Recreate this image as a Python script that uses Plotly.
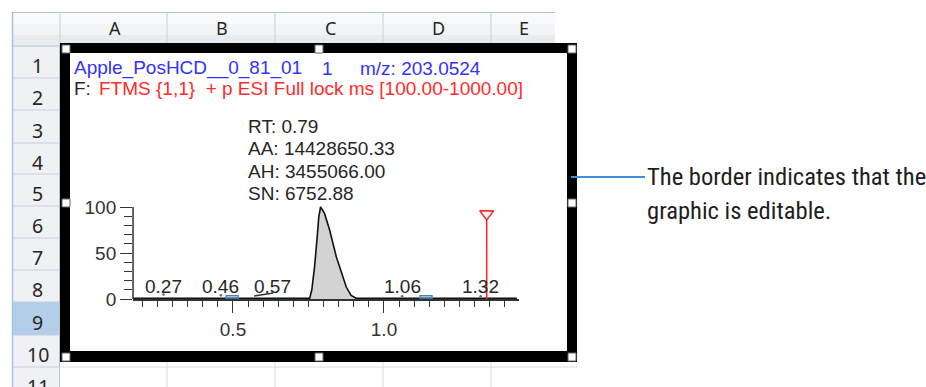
import plotly.graph_objects as go

W, H = 926, 387

# ---- chromatogram data (retention time in min, relative abundance in %) ----
rt = [0.169, 0.22, 0.27, 0.33, 0.40, 0.46, 0.52, 0.60, 0.70, 0.754, 0.761, 0.770,
      0.779, 0.784, 0.790, 0.803, 0.820, 0.831, 0.842, 0.853, 0.864, 0.875,
      0.891, 0.908, 0.95, 1.06, 1.15, 1.25, 1.32, 1.40, 1.44]
intensity = [0.8, 0.7, 0.8, 0.7, 0.8, 0.9, 0.8, 0.7, 0.8, 0.8, 10, 35,
             68, 89, 100, 93, 75, 60, 46, 35, 24, 13,
             4, 0.8, 0.7, 0.8, 0.7, 0.8, 0.8, 0.7, 0.7]

# integrated peak (filled area)
peak_rt = rt[9:24]
peak_int = intensity[9:24]

# baseline segment of the small peak at 0.57
seg_rt = [0.57, 0.633]
seg_int = [3.3, 6.5]

# labelled minor peaks
label_rt = [0.27, 0.46, 0.57, 1.06, 1.32]
label_text = ["0.27", "0.46", "0.57", "1.06", "1.32"]
apex_rt = [0.27, 0.46, 1.06, 1.32]
apex_int = [5, 4, 3, 3]

# peak boundary boxes
box_rt = [0.497, 1.139]

# reference marker
ref_rt = 1.34
ref_top = 86

info_lines = ["RT: 0.79", "AA: 14428650.33", "AH: 3455066.00", "SN: 6752.88"]
title_parts = ["Apple_PosHCD__0_81_01", "1", "m/z: 203.0524"]
filter_label = "F:"
filter_text = "FTMS {1,1}  + p ESI Full lock ms [100.00-1000.00]"

col_labels = ["A", "B", "C", "D", "E"]
row_labels = [str(i) for i in range(1, 12)]
callout_lines = ["The border indicates that the", "graphic is editable."]

# ---- layout helpers (pixel -> paper) ----
def px(x):
    return x / W

def py(y):
    return 1 - y / H

# plot scale: 0.5 min at x=233 px, 302 px per minute; 0 % at y=299 px, 0.92 px per %
X_RANGE = [0.169, 1.448]
Y_RANGE = [0, 104]
x_dom = [px(233 + (X_RANGE[0] - 0.5) * 302), px(233 + (X_RANGE[1] - 0.5) * 302)]
y_dom = [py(299), py(299 - Y_RANGE[1] * 0.92)]

CHART_FONT = "Liberation Sans, Arial, sans-serif"
SHEET_FONT = "Noto Sans, Open Sans, sans-serif"
CALLOUT_FONT = "Liberation Sans Narrow, Arial Narrow, Roboto Condensed, DejaVu Sans Condensed, sans-serif"
BLUE = "#3232ff"
RED = "#ff2b2b"
INK = "#262626"

fig = go.Figure()

fig.add_trace(go.Scatter(x=peak_rt, y=peak_int, mode="lines", fill="tozeroy",
                         fillcolor="#d3d3d3", line=dict(width=0), hoverinfo="skip"))
fig.add_trace(go.Scatter(x=rt, y=intensity, mode="lines",
                         line=dict(color="#111111", width=1.6), hoverinfo="skip"))
fig.add_trace(go.Scatter(x=seg_rt, y=seg_int, mode="lines",
                         line=dict(color="#333333", width=1.5), hoverinfo="skip"))
fig.add_trace(go.Scatter(x=apex_rt, y=apex_int, mode="markers",
                         marker=dict(size=2.5, color="#666666"), hoverinfo="skip"))
fig.add_trace(go.Scatter(x=[ref_rt, ref_rt], y=[0, ref_top], mode="lines",
                         line=dict(color=RED, width=1.6), hoverinfo="skip"))
fig.add_trace(go.Scatter(x=[ref_rt], y=[ref_top + 6 / 0.92], mode="markers",
                         marker=dict(symbol="triangle-down-open", size=12,
                                     color=RED, line=dict(width=1.6, color=RED)),
                         hoverinfo="skip"))

shapes = []

def rect(x0, y0, x1, y1, fill, line_color=None, lw=0, layer="below"):
    shapes.append(dict(type="rect", xref="paper", yref="paper",
                       x0=px(x0), x1=px(x1), y0=py(y0), y1=py(y1),
                       fillcolor=fill, layer=layer,
                       line=dict(width=lw, color=line_color or fill)))

def line(x0, y0, x1, y1, color, lw=1, layer="below"):
    shapes.append(dict(type="line", xref="paper", yref="paper",
                       x0=px(x0), x1=px(x1), y0=py(y0), y1=py(y1),
                       layer=layer, line=dict(width=lw, color=color)))

# ---- spreadsheet background ----
col_edges = [60, 167, 275, 383, 491, 555]
row_edges = [46, 78, 110, 143, 174, 206, 238, 270, 302, 335, 367, 399]

rect(12, 12, 555, 24, "#f9fafb")
rect(12, 24, 555, 35, "#f2f4f6")
rect(12, 35, 555, 46, "#e9ecef")
rect(12, 46, 60, 387, "#eff1f4")
rect(12, 302, 60, 335, "#b3cee9")
for y in row_edges[1:-1]:
    line(12, y, 60, y, "#c3cfdc")
line(12, 46, 60, 46, "#b9c4d0")
for x in col_edges[:-1]:
    line(x, 12, x, 46, "#c7ced6")
line(12, 12.5, 555, 12.5, "#b6c6d6")
line(12.5, 12, 12.5, 387, "#a6c2de", lw=1.5)
line(59.5, 46, 59.5, 387, "#b9c4d0")
for x in col_edges[1:-1]:
    line(x, 362, x, 387, "#d5dbe3")
line(60, 367, 578, 367, "#d5dbe3")

# ---- chart object frame ----
rect(60, 43, 577, 362, "#000000")
rect(70, 53, 567, 351, "#ffffff")
for hx in (62, 315, 568):
    for hy in (45, 353):
        rect(hx, hy, hx + 8, hy + 8, "#ffffff", "#666666", 1)
for hx in (62, 568):
    rect(hx, 199, hx + 8, 207, "#ffffff", "#666666", 1)

# callout leader
line(571, 177, 645, 177, "#3d8fd8", lw=2.2, layer="above")

# y axis line from 0 to 100 %
shapes.append(dict(type="line", xref="x domain", yref="y", x0=0, x1=0, y0=0, y1=100,
                   layer="above", line=dict(color="#333333", width=1.5)))
# peak boundary boxes
for b in box_rt:
    shapes.append(dict(type="rect", xref="x", yref="y", x0=b - 0.02, x1=b + 0.02,
                       y0=0, y1=3.6, layer="above",
                       line=dict(color="#3f86c8", width=1.4)))

annotations = []

def text(x, y, s, size, color, family, xanchor="left", xref="paper", yref="paper"):
    annotations.append(dict(x=x, y=y, xref=xref, yref=yref, text=s, showarrow=False,
                            xanchor=xanchor, yanchor="middle", borderpad=0, borderwidth=0,
                            font=dict(size=size, color=color, family=family)))

for i, c in enumerate(col_labels):
    text(px((col_edges[i] + col_edges[i + 1]) / 2 + 1), py(28), c, 18, INK, SHEET_FONT, "center")
for i, r in enumerate(row_labels):
    text(px(37.5), py((row_edges[i] + row_edges[i + 1]) / 2 + 3.5), r, 19.5, INK, SHEET_FONT, "center")

# chart title lines
text(px(74), py(68.5), title_parts[0], 19, BLUE, CHART_FONT)
text(px(322), py(68.5), title_parts[1], 19, BLUE, CHART_FONT)
text(px(360), py(68.5), title_parts[2], 19, BLUE, CHART_FONT)
text(px(74), py(88.5), filter_label, 19, INK, CHART_FONT)
text(px(99), py(88.5), filter_text, 19, RED, CHART_FONT)

for i, s in enumerate(info_lines):
    text(px(248), py(126.7 + 22.2 * i), s, 19, INK, CHART_FONT)

for r, s in zip(label_rt, label_text):
    anchor = "left" if s == "0.57" else "center"
    text(r, py(286), s, 19, INK, CHART_FONT, anchor, xref="x")

for i, s in enumerate(callout_lines):
    text(px(647), py(177 + 33.5 * i), s, 24.6, "#1e1e1e", CALLOUT_FONT)

axis_font = dict(family=CHART_FONT, size=19, color="#333333")
fig.update_layout(
    template="none",
    width=W, height=H,
    margin=dict(l=0, r=0, t=0, b=0),
    paper_bgcolor="#ffffff",
    plot_bgcolor="rgba(0,0,0,0)",
    showlegend=False,
    xaxis=dict(domain=x_dom, range=X_RANGE, anchor="y", automargin=False,
               showline=True, linecolor="#333333", linewidth=1.5,
               ticks="outside", ticklen=12, tickwidth=1.3, tickcolor="#333333",
               tick0=0, dtick=0.5, tickformat=".1f", tickfont=axis_font,
               minor=dict(ticks="outside", dtick=0.05, tick0=0, ticklen=6,
                          tickwidth=1.3, tickcolor="#333333", showgrid=False),
               showgrid=False, zeroline=False, fixedrange=True),
    yaxis=dict(domain=y_dom, range=Y_RANGE, anchor="x", automargin=False,
               showline=False,
               ticks="outside", ticklen=12, tickwidth=1.3, tickcolor="#333333",
               tick0=0, dtick=50, tickfont=axis_font,
               minor=dict(ticks="outside", dtick=10, tick0=0, ticklen=8,
                          tickwidth=1.3, tickcolor="#333333", showgrid=False),
               showgrid=False, zeroline=False, fixedrange=True),
    shapes=shapes,
    annotations=annotations,
)

fig.write_html("out.html", config=dict(displayModeBar=False))
